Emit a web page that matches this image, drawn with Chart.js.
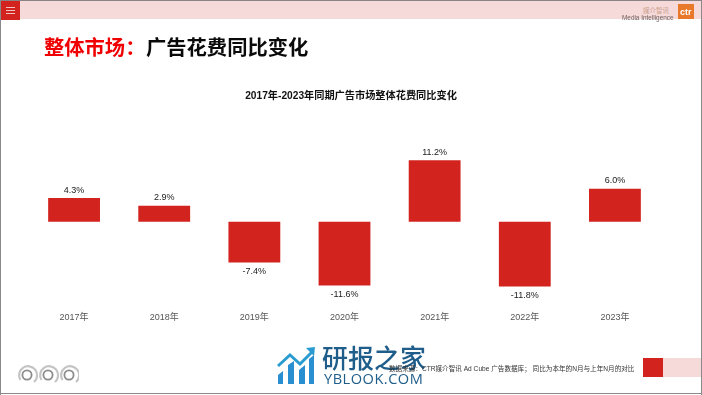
<!DOCTYPE html>
<html>
<head>
<meta charset="utf-8">
<script src="https://cdn.jsdelivr.net/npm/chart.js@4"></script>
<style>
    html, body { margin: 0; padding: 0; background: #fff; overflow: hidden; }
    body { width: 702px; height: 395px; position: relative; font-family: "Liberation Sans", "Noto Sans CJK SC", sans-serif; }
    #chart-canvas { position: absolute; left: 0; top: 0; }
    .box { position: absolute; }
    .txt { position: absolute; white-space: nowrap; }
</style>
</head>
<body>
<canvas id="chart-canvas" width="702" height="395"></canvas>

<!-- slide frame -->
<div class="box" style="left:0;top:0;width:702px;height:1px;background:#8a8385"></div>
<div class="box" style="left:0;top:0;width:1px;height:395px;background:#8a8a8a"></div>
<div class="box" style="left:701px;top:0;width:1px;height:395px;background:#8a8a8a"></div>
<div class="box" style="left:0;top:393px;width:702px;height:1px;background:#8a8a8a"></div>

<!-- top band -->
<div class="box" style="left:1px;top:1px;width:700px;height:18px;background:#f6d9d9"></div>
<div class="box" style="left:1px;top:1px;width:19px;height:19px;background:#d2231e"></div>
<div class="box" style="left:6px;top:7px;width:9px;height:1px;background:#f3c4c2"></div>
<div class="box" style="left:6px;top:10px;width:9px;height:1px;background:#f3c4c2"></div>
<div class="box" style="left:6px;top:13px;width:9px;height:1px;background:#f3c4c2"></div>

<!-- logo -->
<div class="txt" style="left:643px;top:7px;font-size:6.5px;line-height:7px;color:#c9a08c">媒介智讯</div>
<div class="txt" style="left:622px;top:14px;font-size:6.4px;line-height:7px;color:#6b5f5c">Media Intelligence</div>
<div class="box" style="left:678px;top:4px;width:16px;height:15px;background:#e8782a"></div>
<div class="txt" style="left:680px;top:7px;font-size:9px;line-height:11px;font-weight:bold;color:#fff">ctr</div>

<!-- heading -->
<div class="txt" style="left:44px;top:32px;font-size:20.3px;line-height:28px;font-weight:bold;color:#f00000;font-family:'Noto Sans CJK SC'">整体市场：</div>
<div class="txt" style="left:146px;top:32px;font-size:20.3px;line-height:28px;font-weight:bold;color:#0a0a0a;font-family:'Noto Sans CJK SC'">广告花费同比变化</div>

<!-- certification badges -->
<svg class="box" style="left:17px;top:364px" width="62" height="24" viewBox="0 0 62 24">
    <g fill="none" stroke="#c4c4c4" stroke-width="2.2">
        <path d="M3.5 16 A9 9 0 1 1 17 18"></path>
        <path d="M24.5 16 A9 9 0 1 1 38 18"></path>
        <path d="M45.5 16 A9 9 0 1 1 59 18"></path>
    </g>
    <g fill="none" stroke="#8c8c8c" stroke-width="1.8">
        <circle cx="10" cy="11" r="4.6"></circle>
        <circle cx="31" cy="11" r="4.6"></circle>
        <circle cx="52" cy="11" r="4.6"></circle>
    </g>
</svg>

<!-- watermark -->
<svg class="box" style="left:277px;top:346px" width="40" height="40" viewBox="0 0 40 40">
    <path d="M1 20 L13 9 L23 18 L35 6" fill="none" stroke="#2a9bd0" stroke-width="3"></path>
    <path d="M29 2 L38 1 L37 10 Z" fill="#2a9bd0"></path>
    <path d="M1 38 V29 L6 25 V38 Z M11 38 V19 L17 15 V38 Z M22 38 V24 L28 19 V38 Z M32 38 V13 L37 9 V38 Z" fill="#2a8fd0"></path>
</svg>
<div class="txt" style="left:322px;top:340px;font-size:26px;line-height:34px;font-weight:500;color:#1f5d8a;font-family:'Noto Sans CJK SC'">研报之家</div>
<div class="txt" style="left:324px;top:370px;font-size:14.6px;line-height:16px;color:#1f5d8a;font-family:'Open Sans';letter-spacing:0.5px">YBLOOK.COM</div>

<!-- source note -->
<div class="txt" style="left:389px;top:364px;font-size:6.6px;line-height:10px;color:#333">数据来源：CTR媒介智讯 Ad Cube 广告数据库； 同比为本年的N月与上年N月的对比</div>

<!-- bottom corner -->
<div class="box" style="left:643px;top:358px;width:20px;height:19px;background:#d2231e"></div>
<div class="box" style="left:663px;top:358px;width:38px;height:19px;background:#f6d9d9"></div>

<script>
const years = ["2017年", "2018年", "2019年", "2020年", "2021年", "2022年", "2023年"];
const changes = [4.3, 2.9, -7.4, -11.6, 11.2, -11.8, 6.0];
const chartTitle = "2017年-2023年同期广告市场整体花费同比变化";

const fontFamily = '"Liberation Sans", "Noto Sans CJK SC", sans-serif';

// value label above or below each bar
const valueLabelPlugin = {
    id: "valueLabelPlugin",
    afterDatasetsDraw(chart) {
        const { ctx } = chart;
        ctx.save();
        ctx.font = "9px " + fontFamily;
        ctx.fillStyle = "#1a1a1a";
        ctx.textAlign = "center";
        ctx.textBaseline = "middle";
        chart.getDatasetMeta(0).data.forEach((bar, index) => {
            const value = changes[index];
            const y = value >= 0 ? bar.y - 8 : bar.y + 9;
            ctx.fillText(value.toFixed(1) + "%", bar.x, y);
        });
        ctx.restore();
    }
};

new Chart(document.getElementById("chart-canvas"), {
    type: "bar",
    data: {
        labels: years,
        datasets: [
            {
                label: "同比变化",
                data: changes,
                backgroundColor: "#d2231e",
                categoryPercentage: 1,
                barPercentage: 0.575
            }
        ]
    },
    options: {
        responsive: false,
        animation: false,
        // symmetric padding keeps the title centred on the page, the blank y axis takes up the rest
        layout: { padding: { left: 29, right: 29, top: 90, bottom: 64 } },
        plugins: {
            legend: { display: false },
            tooltip: { enabled: false },
            title: {
                display: true,
                text: chartTitle,
                color: "#111",
                font: { family: fontFamily, size: 10.2, weight: "bold" },
                padding: { top: 0, bottom: 37 }
            }
        },
        scales: {
            x: {
                position: "bottom",
                grid: { display: false, drawTicks: false },
                border: { display: false },
                ticks: { color: "#555", font: { family: fontFamily, size: 9 }, padding: 8, maxRotation: 0 }
            },
            y: {
                position: "right",
                min: -15,
                max: 15,
                grid: { display: false, drawTicks: false },
                border: { display: false },
                ticks: { display: false },
                afterFit(axis) { axis.width = 13; }
            }
        }
    },
    plugins: [valueLabelPlugin]
});
</script>
</body>
</html>
